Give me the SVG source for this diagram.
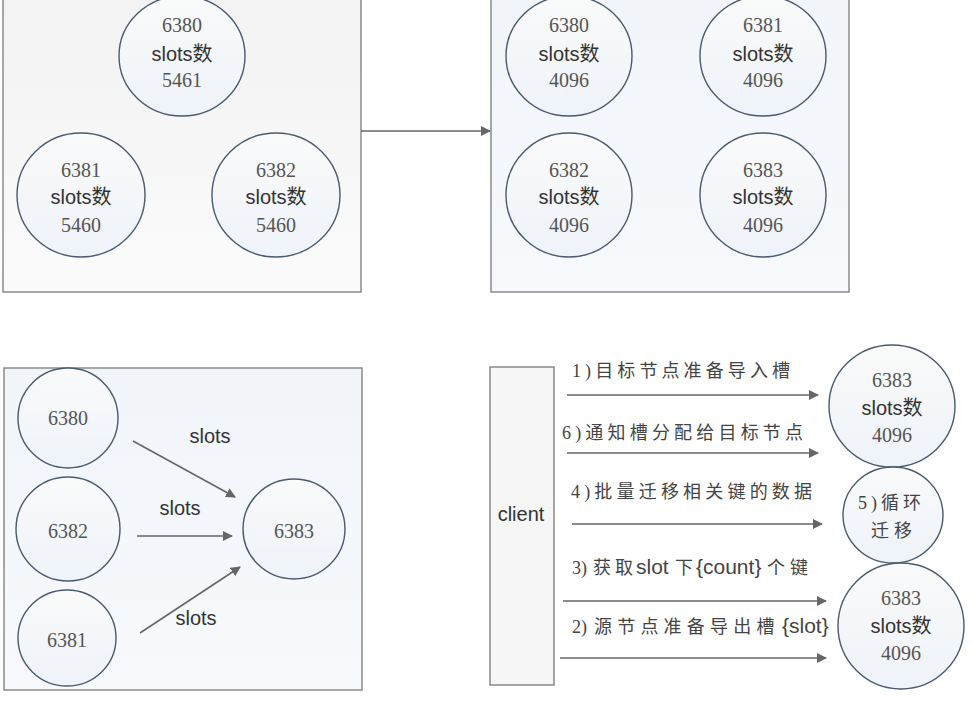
<svg xmlns="http://www.w3.org/2000/svg" width="973" height="711" viewBox="0 0 973 711">
<defs>
<linearGradient id="gGrey" x1="0" y1="0" x2="0" y2="1"><stop offset="0" stop-color="#f2f2f2"/><stop offset="1" stop-color="#fbfbfb"/></linearGradient>
<linearGradient id="gBlue" x1="0" y1="0" x2="0" y2="1"><stop offset="0" stop-color="#f1f5fa"/><stop offset="1" stop-color="#f7f9fc"/></linearGradient>
<linearGradient id="gCirc" x1="0" y1="0" x2="0" y2="1"><stop offset="0" stop-color="#fafafa"/><stop offset="1" stop-color="#eef3f9"/></linearGradient>
<marker id="arr" viewBox="0 0 10 10" refX="9" refY="5" markerWidth="10" markerHeight="10" markerUnits="userSpaceOnUse" orient="auto"><path d="M0,0 L10,5 L0,10 z" fill="#666"/></marker>
</defs>
<style>
.box{stroke:#8a8a8a;stroke-width:1.5}
.c{fill:url(#gCirc);stroke:#4b5a6e;stroke-width:1.4}
.n{font-family:"Liberation Serif",serif;font-size:20px;fill:#555;text-anchor:middle}
.s{font-family:"Liberation Sans","Noto Sans CJK SC",sans-serif;font-size:20px;fill:#333;text-anchor:middle}
.l{font-family:"Liberation Serif","Noto Sans CJK SC",serif;font-size:18px;fill:#444}
.lt{font-family:"Liberation Sans",sans-serif;font-size:21px;fill:#444}
.e{stroke:#666;stroke-width:1.6;fill:none;marker-end:url(#arr)}
</style>
<rect width="973" height="711" fill="#ffffff"/>

<g id="clusterA">
<rect class="box" x="3" y="-5" width="358" height="297" fill="url(#gGrey)"/>
</g>
<g id="clusterB">
<rect class="box" x="491" y="-5" width="358" height="297" fill="url(#gBlue)"/>
</g>
<g id="clusterC">
<rect class="box" x="4" y="368" width="358" height="322" fill="url(#gBlue)"/>
</g>

<g id="a6380"><ellipse class="c" cx="182" cy="56" rx="63" ry="60"/><text class="n" x="182" y="32">6380</text><text class="s" x="182" y="61">slots数</text><text class="n" x="182" y="87">5461</text></g>
<g id="a6381"><ellipse class="c" cx="81" cy="195" rx="64" ry="62"/><text class="n" x="81" y="177">6381</text><text class="s" x="81" y="204">slots数</text><text class="n" x="81" y="232">5460</text></g>
<g id="a6382"><ellipse class="c" cx="276" cy="195" rx="64" ry="62"/><text class="n" x="276" y="177">6382</text><text class="s" x="276" y="204">slots数</text><text class="n" x="276" y="232">5460</text></g>

<g id="b6380"><ellipse class="c" cx="569" cy="56" rx="63" ry="60"/><text class="n" x="569" y="32">6380</text><text class="s" x="569" y="61">slots数</text><text class="n" x="569" y="87">4096</text></g>
<g id="b6381"><ellipse class="c" cx="763" cy="56" rx="63" ry="60"/><text class="n" x="763" y="32">6381</text><text class="s" x="763" y="61">slots数</text><text class="n" x="763" y="87">4096</text></g>
<g id="b6382"><ellipse class="c" cx="569" cy="195" rx="63" ry="62"/><text class="n" x="569" y="177">6382</text><text class="s" x="569" y="204">slots数</text><text class="n" x="569" y="232">4096</text></g>
<g id="b6383"><ellipse class="c" cx="763" cy="195" rx="63" ry="62"/><text class="n" x="763" y="177">6383</text><text class="s" x="763" y="204">slots数</text><text class="n" x="763" y="232">4096</text></g>

<g id="c6380"><ellipse class="c" cx="68" cy="418" rx="50" ry="50"/><text class="n" x="68" y="425">6380</text></g>
<g id="c6382"><ellipse class="c" cx="68" cy="529" rx="52" ry="52"/><text class="n" x="68" y="538">6382</text></g>
<g id="c6381"><ellipse class="c" cx="67" cy="638" rx="49" ry="48"/><text class="n" x="67" y="647">6381</text></g>
<g id="c6383"><ellipse class="c" cx="294" cy="529" rx="51" ry="50"/><text class="n" x="294" y="538">6383</text></g>

<g id="client"><rect x="490" y="367" width="64" height="318" fill="#f6f6f6" stroke="#8a8a8a" stroke-width="1.5"/><text class="s" x="521" y="521">client</text></g>

<g id="d6383top"><ellipse class="c" cx="892" cy="406" rx="63" ry="61"/><text class="n" x="892" y="387">6383</text><text class="s" x="892" y="415">slots数</text><text class="n" x="892" y="442">4096</text></g>
<g id="dloop"><ellipse class="c" cx="893" cy="515" rx="50" ry="48"/><text class="l" x="858" y="509" textLength="63" lengthAdjust="spacing">5)循环</text><text class="l" x="871" y="537" textLength="41" lengthAdjust="spacing">迁移</text></g>
<g id="d6383bot"><ellipse class="c" cx="901" cy="626" rx="63" ry="63"/><text class="n" x="901" y="605">6383</text><text class="s" x="901" y="633">slots数</text><text class="n" x="901" y="660">4096</text></g>

<g id="edges">
<line class="e" x1="361" y1="131" x2="490" y2="131"/>
<line class="e" x1="133" y1="441" x2="235" y2="497"/>
<line class="e" x1="137" y1="536" x2="232" y2="536"/>
<line class="e" x1="140" y1="633" x2="240" y2="567"/>
<text class="s" x="210" y="443">slots</text>
<text class="s" x="180" y="515">slots</text>
<text class="s" x="196" y="625">slots</text>

<line class="e" x1="567" y1="395" x2="818" y2="395"/>
<line class="e" x1="567" y1="453" x2="818" y2="453"/>
<line class="e" x1="572" y1="524" x2="822" y2="524"/>
<line class="e" x1="563" y1="601" x2="826" y2="601"/>
<line class="e" x1="560" y1="658" x2="826" y2="658"/>
<text class="l" x="572" y="377" textLength="218" lengthAdjust="spacing">1)目标节点准备导入槽</text>
<text class="l" x="562" y="439" textLength="241" lengthAdjust="spacing">6)通知槽分配给目标节点</text>
<text class="l" x="571" y="498" textLength="241" lengthAdjust="spacing">4)批量迁移相关键的数据</text>
<text class="l" y="574"><tspan x="572">3)</tspan><tspan x="593" letter-spacing="4">获取</tspan><tspan class="lt" x="636">slot</tspan><tspan x="675">下</tspan><tspan class="lt" x="696">{count}</tspan><tspan x="767" letter-spacing="5">个键</tspan></text>
<text class="l" y="633"><tspan x="572">2)</tspan><tspan x="594" letter-spacing="5.2">源节点准备导出槽</tspan><tspan class="lt" x="782">{slot}</tspan></text>
</g>
</svg>
